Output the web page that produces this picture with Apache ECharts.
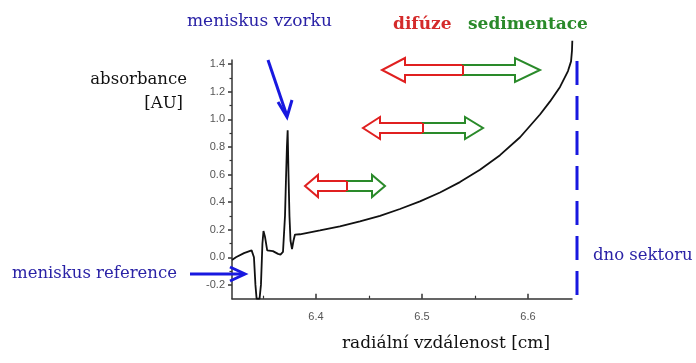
<!DOCTYPE html>
<html>
<head>
<meta charset="utf-8">
<script src="https://cdn.jsdelivr.net/npm/echarts@6/dist/echarts.min.js"></script>
<style>html,body{margin:0;padding:0;background:#fff}#c{width:696px;height:363px}</style>
</head>
<body>
<div id="c"></div>
<script>
// radial distance [cm]
var radius = [6.3208, 6.3245, 6.3321, 6.3393, 6.3415, 6.3429, 6.3440, 6.3468, 6.3481, 6.3495, 6.3505, 6.3519,
  6.3540, 6.3594, 6.3642, 6.3665, 6.3689, 6.3708, 6.3717, 6.3726, 6.3733, 6.3741, 6.3750, 6.3760, 6.3774,
  6.3788, 6.3802, 6.3849, 6.4038, 6.4226, 6.4415, 6.4604, 6.4792, 6.4981, 6.5170, 6.5358,
  6.5547, 6.5736, 6.5925, 6.6113, 6.6208, 6.6302, 6.6377, 6.6406, 6.6415, 6.6418];
// absorbance [AU]
var absorbance = [-0.02, 0.00, 0.03, 0.05, 0.00, -0.20, -0.30, -0.30, -0.20, 0.10, 0.19, 0.15,
  0.05, 0.045, 0.025, 0.02, 0.04, 0.30, 0.56, 0.80, 0.92, 0.60, 0.30, 0.12, 0.06,
  0.12, 0.165, 0.167, 0.195, 0.225, 0.26, 0.30, 0.35, 0.405, 0.47, 0.545,
  0.635, 0.74, 0.87, 1.035, 1.13, 1.235, 1.35, 1.42, 1.50, 1.57];
var yTickLabels = [-0.2, 0.0, 0.2, 0.4, 0.6, 0.8, 1.0, 1.2, 1.4];
var yMinorTicks = [-0.1, 0.1, 0.3, 0.5, 0.7, 0.9, 1.1, 1.3];
var xTickLabels = [6.4, 6.5, 6.6];
var xMinorTicks = [6.35, 6.45, 6.55];

var data = radius.map(function (r, i) { return [r, absorbance[i]]; });

var serif = "'DejaVu Serif', 'Liberation Serif', serif";
var blueText = '#2a22a6';
var blueArrow = '#1818e0';
var red = '#e02020';
var green = '#2a8a2a';

function dblArrow(lx, sx, rx, cy, hh, sh, hlL, hlR) {
  return [
    { type: 'polygon', shape: { points: [[sx, cy - sh], [lx + hlL, cy - sh], [lx + hlL, cy - hh], [lx, cy], [lx + hlL, cy + hh], [lx + hlL, cy + sh], [sx, cy + sh]] },
      style: { fill: '#fff', stroke: red, lineWidth: 2 }, z: 10 },
    { type: 'polygon', shape: { points: [[sx, cy - sh], [rx - hlR, cy - sh], [rx - hlR, cy - hh], [rx, cy], [rx - hlR, cy + hh], [rx - hlR, cy + sh], [sx, cy + sh]] },
      style: { fill: '#fff', stroke: green, lineWidth: 2 }, z: 10 },
    { type: 'line', shape: { x1: sx, y1: cy - sh, x2: sx, y2: cy + sh }, style: { stroke: red, lineWidth: 2 }, z: 11 }
  ];
}

var graphics = [
  { type: 'text', x: 187, y: 22, style: { text: 'meniskus vzorku', font: '17px ' + serif, fill: blueText, align: 'left', verticalAlign: 'middle' } },
  { type: 'text', x: 393, y: 25, style: { text: 'difúze', font: 'bold 17px ' + serif, fill: '#d42a2a', align: 'left', verticalAlign: 'middle' } },
  { type: 'text', x: 468, y: 25, style: { text: 'sedimentace', font: 'bold 17px ' + serif, fill: green, align: 'left', verticalAlign: 'middle' } },
  { type: 'text', x: 187, y: 80, style: { text: 'absorbance', font: '16.5px ' + serif, fill: '#111', align: 'right', verticalAlign: 'middle' } },
  { type: 'text', x: 183, y: 104, style: { text: '[AU]', font: '16.5px ' + serif, fill: '#111', align: 'right', verticalAlign: 'middle' } },
  { type: 'text', x: 12, y: 274, style: { text: 'meniskus reference', font: '16.5px ' + serif, fill: blueText, align: 'left', verticalAlign: 'middle' } },
  { type: 'text', x: 593, y: 256, style: { text: 'dno sektoru', font: '16.5px ' + serif, fill: blueText, align: 'left', verticalAlign: 'middle' } },
  { type: 'text', x: 446, y: 344, style: { text: 'radiální vzdálenost [cm]', font: '17px ' + serif, fill: '#111', align: 'center', verticalAlign: 'middle' } },
  // arrow to sample meniscus
  { type: 'line', shape: { x1: 268, y1: 60, x2: 287, y2: 116 }, style: { stroke: blueArrow, lineWidth: 3 }, z: 12 },
  { type: 'polyline', shape: { points: [[278, 102], [287, 117], [292, 100]] }, style: { stroke: blueArrow, lineWidth: 3, fill: null }, z: 12 },
  // arrow to reference meniscus
  { type: 'line', shape: { x1: 190, y1: 274, x2: 244, y2: 274 }, style: { stroke: blueArrow, lineWidth: 3 }, z: 12 },
  { type: 'polyline', shape: { points: [[230, 267], [245, 274], [230, 281]] }, style: { stroke: blueArrow, lineWidth: 3, fill: null }, z: 12 },
  // sector bottom
  { type: 'line', shape: { x1: 577, y1: 61, x2: 577, y2: 296 }, style: { stroke: blueArrow, lineWidth: 3, lineDash: [24, 11] }, z: 12 }
];
graphics = graphics.concat(dblArrow(382, 463, 540, 70, 12, 5, 23, 25));
graphics = graphics.concat(dblArrow(363, 423, 483, 128, 11, 5, 17, 18));
graphics = graphics.concat(dblArrow(305, 347, 385, 186, 11, 5, 13, 13));

var axisColor = '#333';
var chart = echarts.init(document.getElementById('c'), null, { renderer: 'canvas' });
chart.setOption({
  animation: false,
  backgroundColor: '#fff',
  grid: { left: 232, right: 124, top: 60, bottom: 64.3, containLabel: false },
  xAxis: [{
    type: 'value', min: 6.3208, max: 6.6415,
    axisLine: { show: true, onZero: false, lineStyle: { color: axisColor, width: 1.5 } },
    axisTick: { show: true, inside: true, length: 5, customValues: xTickLabels, lineStyle: { color: axisColor, width: 1.5 } },
    axisLabel: { show: true, customValues: xTickLabels, margin: 13, color: '#555', fontSize: 11, fontFamily: 'Liberation Sans, Arial, sans-serif',
      formatter: function (v) { return v.toFixed(1); } },
    splitLine: { show: false }
  }, {
    type: 'value', min: 6.3208, max: 6.6415, position: 'bottom',
    axisLine: { show: false, onZero: false },
    axisTick: { show: true, inside: true, length: 3, customValues: xMinorTicks, lineStyle: { color: axisColor, width: 1.2 } },
    axisLabel: { show: false }, splitLine: { show: false }
  }],
  yAxis: [{
    type: 'value', min: -0.3, max: 1.43,
    axisLine: { show: true, onZero: false, lineStyle: { color: axisColor, width: 1.5 } },
    axisTick: { show: true, inside: false, length: 4, customValues: yTickLabels, lineStyle: { color: axisColor, width: 1.5 } },
    axisLabel: { show: true, customValues: yTickLabels, margin: 7, color: '#555', fontSize: 11, fontFamily: 'Liberation Sans, Arial, sans-serif',
      formatter: function (v) { return v.toFixed(1); } },
    splitLine: { show: false }
  }, {
    type: 'value', min: -0.3, max: 1.43, position: 'left',
    axisLine: { show: false, onZero: false },
    axisTick: { show: true, inside: false, length: 2.5, customValues: yMinorTicks, lineStyle: { color: axisColor, width: 1.2 } },
    axisLabel: { show: false }, splitLine: { show: false }
  }],
  series: [{
    type: 'line', xAxisIndex: 0, yAxisIndex: 0,
    data: data, showSymbol: false, clip: false, smooth: false,
    lineStyle: { color: '#111', width: 1.8 }, z: 5
  }],
  graphic: graphics
});
</script>
</body>
</html>
